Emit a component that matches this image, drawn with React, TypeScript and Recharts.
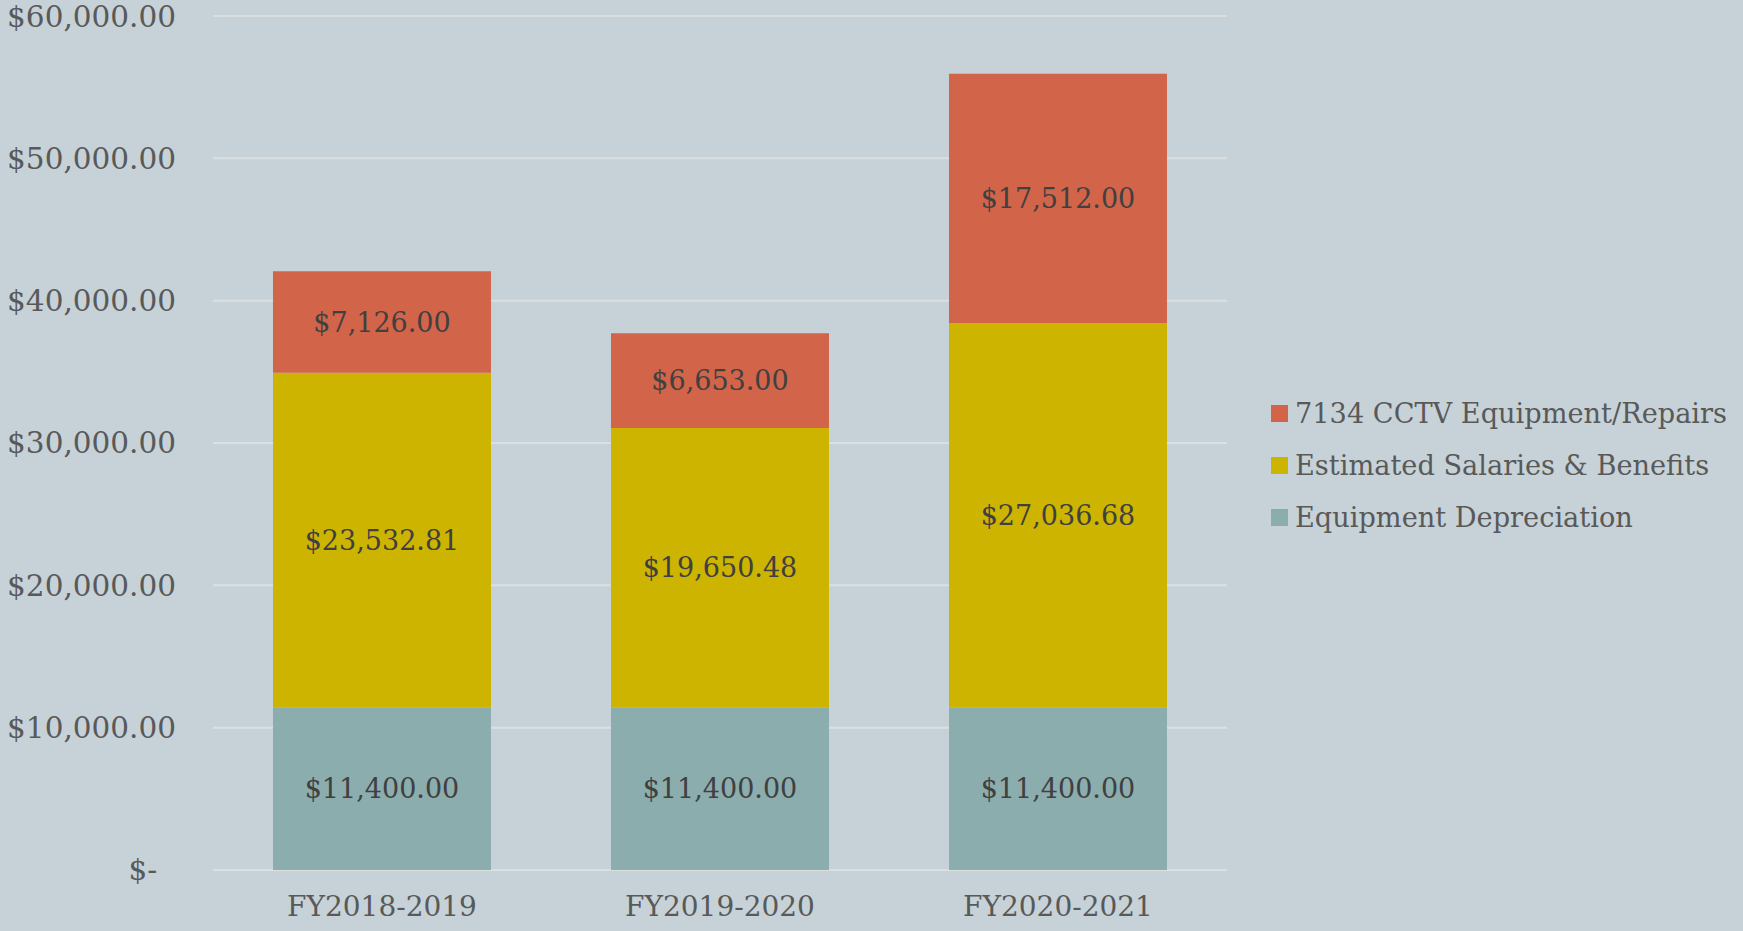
import { BarChart, Bar, XAxis, YAxis, CartesianGrid, LabelList } from 'recharts';

const categories = ['FY2018-2019', 'FY2019-2020', 'FY2020-2021'];
const depreciation = [11400, 11400, 11400];
const salaries = [23532.81, 19650.48, 27036.68];
const cctv = [7126, 6653, 17512];
const yTicks = [0, 10000, 20000, 30000, 40000, 50000, 60000];

const seriesNames = {
  dep: 'Equipment Depreciation',
  sal: 'Estimated Salaries & Benefits',
  cctv: '7134 CCTV Equipment/Repairs',
};
const colors = { dep: '#8BADAE', sal: '#CDB400', cctv: '#D2644A' };

const data = categories.map((name, i) => ({
  name,
  dep: depreciation[i],
  sal: salaries[i],
  cctv: cctv[i],
}));

const FONT = '"DejaVu Serif", serif';

const money = (v: number) =>
  '$' + v.toLocaleString('en-US', { minimumFractionDigits: 2, maximumFractionDigits: 2 });

const yFormat = (v: number) => (v === 0 ? '$-\u00a0\u00a0' : money(v));

const legendOrder: Array<'cctv' | 'sal' | 'dep'> = ['cctv', 'sal', 'dep'];

export default function App() {
  const labelProps = { fill: '#404040', fontSize: 27, fontFamily: FONT };
  return (
    <div style={{ position: 'absolute', left: 0, top: 0, width: 1743, height: 931, background: '#C6D2D8', fontFamily: FONT }}>
      <BarChart
        width={1743}
        height={931}
        data={data}
        margin={{ top: 16, right: 516, bottom: 0, left: 0 }}
        barCategoryGap="17.75%"
      >
        <CartesianGrid vertical={false} stroke="#DCDFE0" strokeWidth={2} />
        <XAxis
          dataKey="name"
          height={61}
          axisLine={false}
          tickLine={false}
          tickMargin={20}
          tick={{ fill: '#595959', fontSize: 28, fontFamily: FONT }}
        />
        <YAxis
          width={213}
          domain={[0, 60000]}
          ticks={yTicks}
          tickFormatter={yFormat}
          axisLine={false}
          tickLine={false}
          tickMargin={31}
          tick={{ fill: '#595959', fontSize: 29.5, fontFamily: FONT }}
        />
        <Bar dataKey="dep" stackId="a" fill={colors.dep} isAnimationActive={false}>
          <LabelList dataKey="dep" position="center" formatter={money} {...labelProps} />
        </Bar>
        <Bar dataKey="sal" stackId="a" fill={colors.sal} isAnimationActive={false}>
          <LabelList dataKey="sal" position="center" formatter={money} {...labelProps} />
        </Bar>
        <Bar dataKey="cctv" stackId="a" fill={colors.cctv} isAnimationActive={false}>
          <LabelList dataKey="cctv" position="center" formatter={money} {...labelProps} />
        </Bar>
      </BarChart>
      <div style={{ position: 'absolute', left: 1271, top: 387 }}>
        {legendOrder.map((k) => (
          <div key={k} style={{ display: 'flex', alignItems: 'center', height: 52 }}>
            <div style={{ width: 17, height: 17, background: colors[k], marginRight: 7 }} />
            <span style={{ color: '#595959', fontSize: 27.2, whiteSpace: 'nowrap' }}>{seriesNames[k]}</span>
          </div>
        ))}
      </div>
    </div>
  );
}
